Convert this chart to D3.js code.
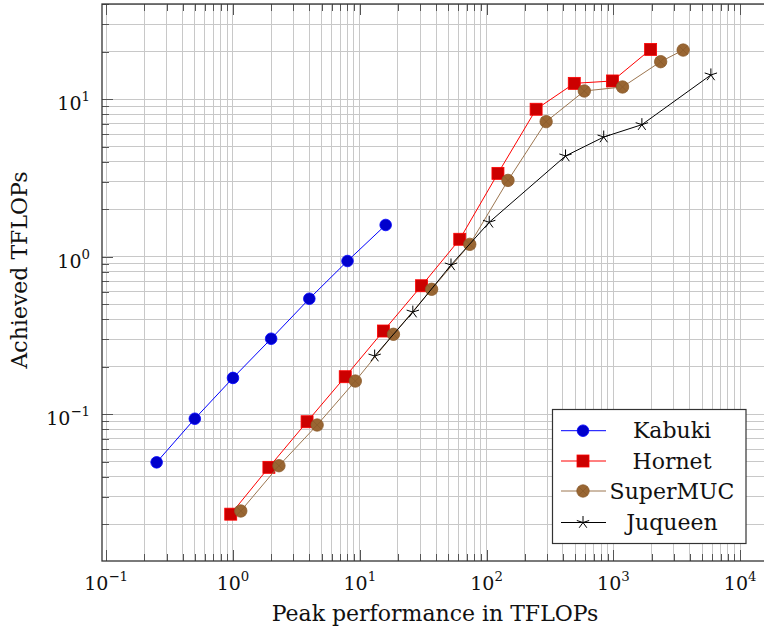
<!DOCTYPE html>
<html><head><meta charset="utf-8">
<script src="https://cdn.jsdelivr.net/npm/d3@7"></script>
<style>body{margin:0;background:#fff}svg{display:block}text{font-family:"DejaVu Serif",serif;fill:#111}</style>
</head><body><svg id="c" width="764" height="631"></svg>
<script>
// ---- data ----
const kabukiX = [0.25, 0.5, 1, 2, 4, 8, 16];
const kabukiY = [0.0495, 0.0936, 0.170, 0.3015, 0.541, 0.939, 1.59];
const hornetX = [0.96, 1.92, 3.84, 7.68, 15.36, 30.72, 61.44, 122.9, 245.8, 491.5, 983, 1966];
const hornetY = [0.0232, 0.0460, 0.0896, 0.173, 0.3375, 0.654, 1.29, 3.38, 8.63, 12.6, 13.05, 20.7];
const supermucX = [1.152, 2.304, 4.61, 9.22, 18.43, 36.86, 73.7, 147.5, 294.9, 589.8, 1180, 2359, 3550];
const supermucY = [0.0243, 0.0471, 0.0854, 0.1624, 0.3217, 0.621, 1.198, 3.05, 7.2, 11.27, 11.95, 17.3, 20.5];
const juqueenX = [13.1, 26.2, 52.4, 104.9, 419.4, 838.9, 1677.7, 5872];
const juqueenY = [0.234, 0.445, 0.886, 1.654, 4.36, 5.75, 6.89, 14.25];
const seriesNames = ["Kabuki", "Hornet", "SuperMUC", "Juqueen"];
const xTickExps = [-1, 0, 1, 2, 3, 4];
const yTickExps = [-1, 0, 1];
const xLabel = "Peak performance in TFLOPs";
const yLabel = "Achieved TFLOPs";
const xDomain = [0.0927, 15690];
const yDomain = [0.0117, 40.2];

const series = [
  {name: seriesNames[0], x: kabukiX, y: kabukiY, line: "#0000ff", fill: "#0000cc", stroke: "#0000ff", mark: "circle"},
  {name: seriesNames[1], x: hornetX, y: hornetY, line: "#ff0000", fill: "#cc0000", stroke: "#ff0000", mark: "square"},
  {name: seriesNames[2], x: supermucX, y: supermucY, line: "#9c7650", fill: "#996633", stroke: "#8a5a2b", mark: "otimes"},
  {name: seriesNames[3], x: juqueenX, y: juqueenY, line: "#000000", fill: "none", stroke: "#000000", mark: "star"}
];

// ---- layout ----
const L = 102, R = 765, T = 4, B = 561;
const svg = d3.select("#c");
const x = d3.scaleLog().domain(xDomain).range([L, R]);
const y = d3.scaleLog().domain(yDomain).range([B, T]);

function minorVals(dom) {
  const out = [];
  const lo = Math.floor(Math.log10(dom[0])), hi = Math.ceil(Math.log10(dom[1]));
  for (let e = lo; e <= hi; e++) for (let m = 2; m <= 9; m++) {
    const v = m * Math.pow(10, e);
    if (v >= dom[0] && v <= dom[1]) out.push(v);
  }
  return out;
}
function majorVals(dom) {
  const out = [];
  const lo = Math.floor(Math.log10(dom[0])), hi = Math.ceil(Math.log10(dom[1]));
  for (let e = lo; e <= hi; e++) { const v = Math.pow(10, e); if (v >= dom[0] && v <= dom[1]) out.push(v); }
  return out;
}
const xMin = minorVals(xDomain), xMaj = majorVals(xDomain);
const yMin = minorVals(yDomain), yMaj = majorVals(yDomain);

// grid
const grid = svg.append("g").attr("stroke", "#c8c8c8").attr("stroke-width", 1).attr("shape-rendering", "crispEdges");
xMin.concat(xMaj).forEach(v => grid.append("line").attr("x1", x(v)).attr("x2", x(v)).attr("y1", T).attr("y2", B));
yMin.concat(yMaj).forEach(v => grid.append("line").attr("y1", y(v)).attr("y2", y(v)).attr("x1", L).attr("x2", R));

// ticks (inward on all sides) via d3 axes
function tickAxis(axisFn, scale, vals, len, tr) {
  const g = svg.append("g").attr("transform", tr)
    .call(axisFn(scale).tickValues(vals).tickSize(len).tickFormat(""));
  g.select(".domain").remove();
  g.selectAll(".tick line").attr("stroke", "#555").attr("stroke-width", 1).attr("shape-rendering", "crispEdges");
  return g;
}
tickAxis(d3.axisTop, x, xMin, 7, `translate(0,${B})`);
tickAxis(d3.axisTop, x, xMaj, 11, `translate(0,${B})`);
tickAxis(d3.axisBottom, x, xMin, 7, `translate(0,${T})`);
tickAxis(d3.axisBottom, x, xMaj, 11, `translate(0,${T})`);
tickAxis(d3.axisRight, y, yMin, 7, `translate(${L},0)`);
tickAxis(d3.axisRight, y, yMaj, 11, `translate(${L},0)`);

// frame
svg.append("rect").attr("x", L).attr("y", T).attr("width", R - L).attr("height", B - T)
  .attr("fill", "none").attr("stroke", "#333").attr("stroke-width", 1.3);

// tick labels
const TFS = 19, LFS = 22;
xTickExps.forEach(e => {
  const t = svg.append("text").attr("x", x(Math.pow(10, e))).attr("y", 590).attr("text-anchor", "middle").attr("font-size", TFS);
  t.append("tspan").text("10");
  t.append("tspan").attr("dy", -9).attr("font-size", TFS * 0.7).text(e < 0 ? "\u2212" + (-e) : String(e));
});
yTickExps.forEach(e => {
  const t = svg.append("text").attr("x", 90).attr("y", y(Math.pow(10, e)) + 11).attr("text-anchor", "end").attr("font-size", TFS);
  t.append("tspan").text("10");
  t.append("tspan").attr("dy", -9).attr("font-size", TFS * 0.7).text(e < 0 ? "\u2212" + (-e) : String(e));
});

// axis labels
svg.append("text").attr("x", 435).attr("y", 621).attr("text-anchor", "middle").attr("font-size", LFS).text(xLabel);
svg.append("text").attr("transform", "translate(27,270) rotate(-90)").attr("text-anchor", "middle").attr("font-size", LFS).text(yLabel);

// markers
function drawMark(g, s, cx, cy) {
  if (s.mark === "circle") {
    g.append("circle").attr("cx", cx).attr("cy", cy).attr("r", 5.8).attr("fill", s.fill).attr("stroke", s.stroke).attr("stroke-width", 0.8);
  } else if (s.mark === "square") {
    g.append("rect").attr("x", cx - 6).attr("y", cy - 6).attr("width", 12).attr("height", 12).attr("fill", s.fill).attr("stroke", s.stroke).attr("stroke-width", 0.8);
  } else if (s.mark === "otimes") {
    const r = 6.2, d = r * Math.SQRT1_2;
    g.append("circle").attr("cx", cx).attr("cy", cy).attr("r", r).attr("fill", s.fill).attr("stroke", s.stroke).attr("stroke-width", 0.8);
    g.append("path").attr("d", `M${cx - d},${cy - d}L${cx + d},${cy + d}M${cx - d},${cy + d}L${cx + d},${cy - d}`).attr("stroke", s.stroke).attr("stroke-width", 0.8);
  } else if (s.mark === "star") {
    const r = 6.5;
    let p = "";
    for (let k = 0; k < 5; k++) {
      const a = -Math.PI / 2 + k * 2 * Math.PI / 5;
      p += `M${cx},${cy}L${cx + r * Math.cos(a)},${cy + r * Math.sin(a)}`;
    }
    g.append("path").attr("d", p).attr("stroke", s.stroke).attr("stroke-width", 1).attr("fill", "none");
  }
}

const plot = svg.append("g");
series.forEach(s => {
  const pts = s.x.map((v, i) => [x(v), y(s.y[i])]);
  plot.append("path").attr("d", d3.line()(pts)).attr("fill", "none").attr("stroke", s.line).attr("stroke-width", 1);
  const mg = plot.append("g");
  pts.forEach(p => drawMark(mg, s, p[0], p[1]));
});

// legend
const lg = svg.append("g");
lg.append("rect").attr("x", 552.5).attr("y", 409.5).attr("width", 193.5).attr("height", 134)
  .attr("fill", "#fff").attr("stroke", "#333").attr("stroke-width", 1.2);
const rowY = [430.7, 461, 491, 522.5];
series.forEach((s, i) => {
  const cy = rowY[i];
  lg.append("line").attr("x1", 561).attr("x2", 606).attr("y1", cy).attr("y2", cy).attr("stroke", s.line).attr("stroke-width", 1);
  drawMark(lg, s, 583, cy);
  lg.append("text").attr("x", 672).attr("y", cy + 7.5).attr("text-anchor", "middle").attr("font-size", LFS).text(s.name);
});
</script></body></html>
